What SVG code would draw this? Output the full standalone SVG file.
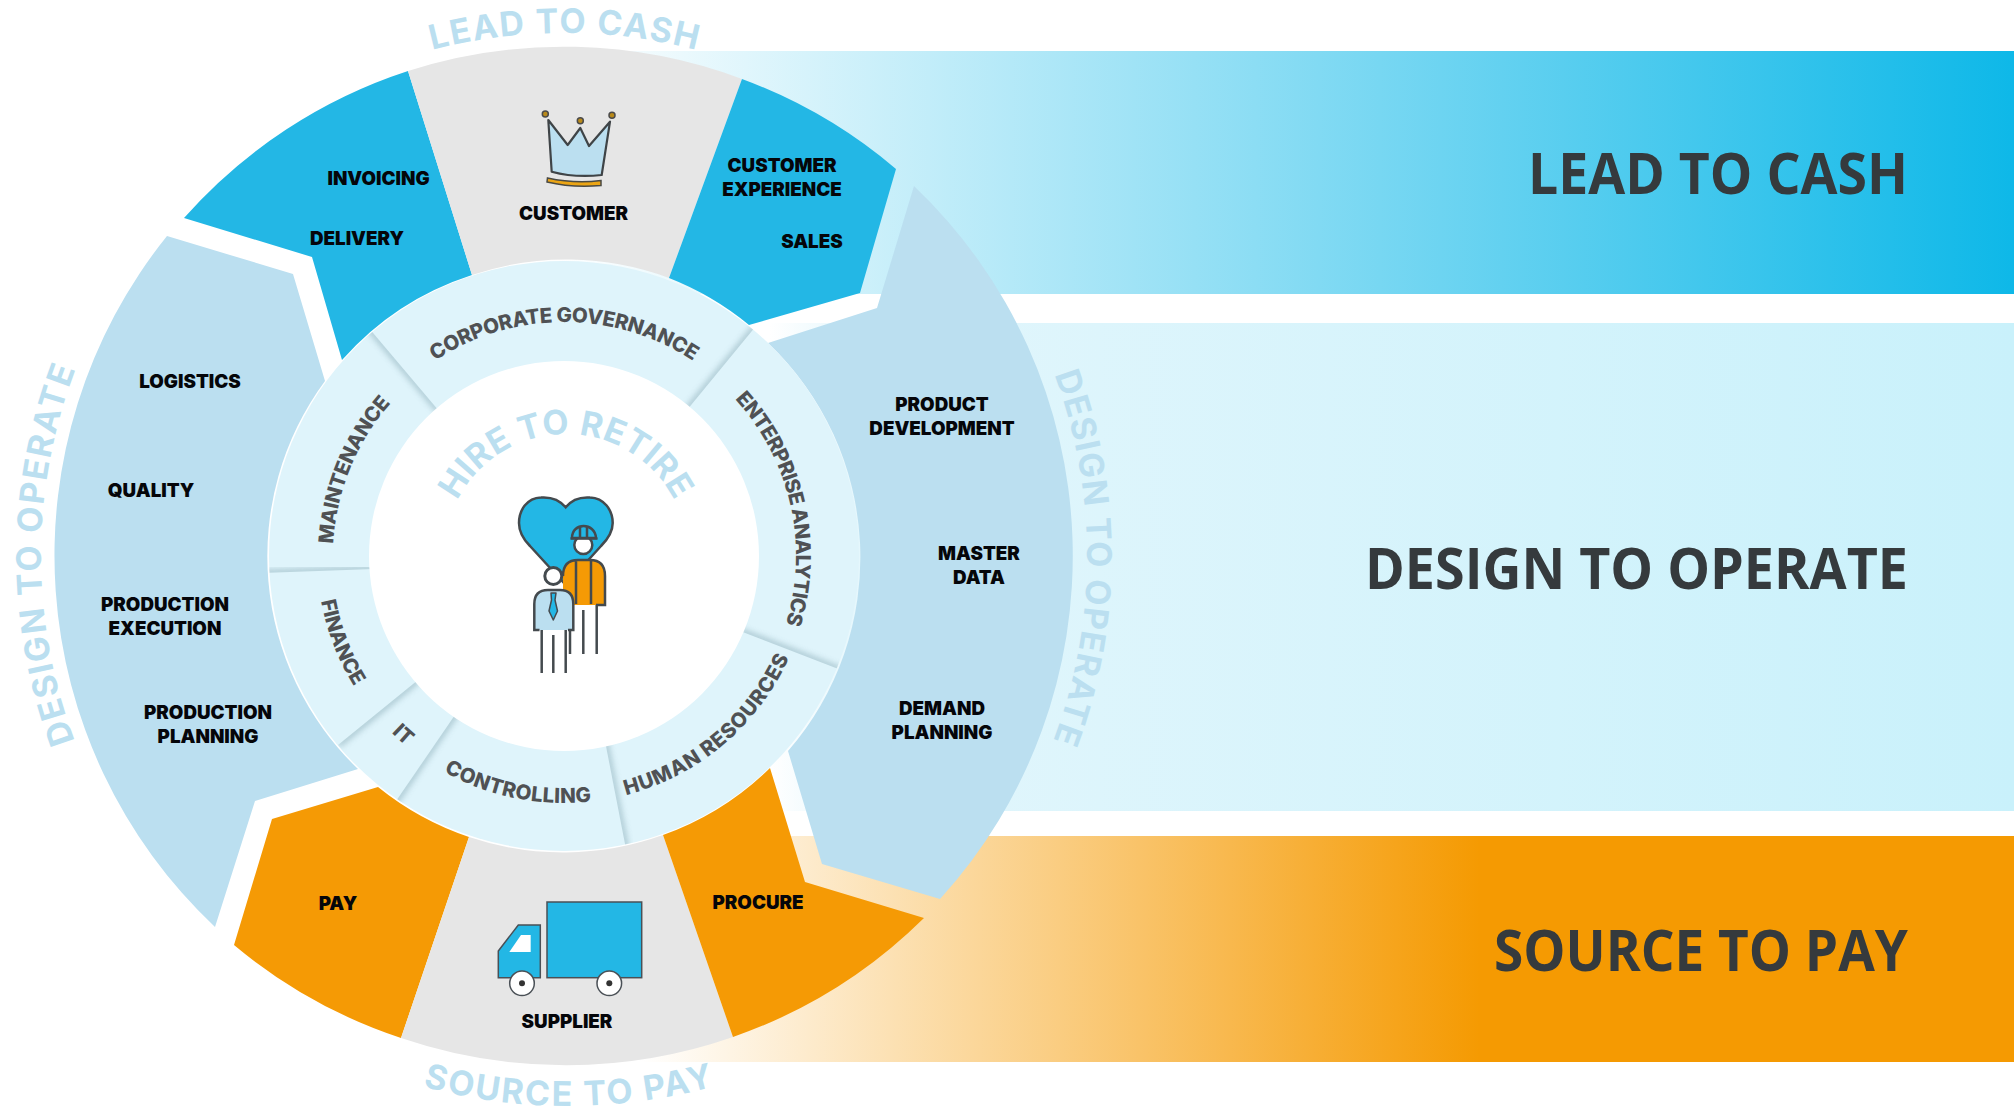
<svg xmlns="http://www.w3.org/2000/svg" width="2014" height="1111" viewBox="0 0 2014 1111">
<style>
.lb{font-family:"Inter","Liberation Sans",sans-serif;font-weight:900;font-size:18.800px;fill:#05060a;text-anchor:middle}
.ring{font-family:"Inter","Liberation Sans",sans-serif;font-weight:800;font-size:20.500px;fill:#4f5154}
.arc{font-family:"Inter","Liberation Sans",sans-serif;font-weight:700;font-size:34px;fill:#bbdff0}
.big{font-family:"Open Sans","Liberation Sans",sans-serif;font-weight:700;font-size:57px;fill:#353a3d}
.ln{stroke:#444a4e;stroke-width:2.5;fill:none}
.div{stroke:#8fb0bb;stroke-width:5;opacity:.8;filter:url(#soft)}
</style>
<defs>
<linearGradient id="gTop" gradientUnits="userSpaceOnUse" x1="560" y1="0" x2="2014" y2="0"><stop offset="0" stop-color="#fff"/><stop offset="1" stop-color="#0eb8e8"/></linearGradient>
<linearGradient id="gMid" gradientUnits="userSpaceOnUse" x1="770" y1="0" x2="2014" y2="0"><stop offset="0" stop-color="#fff"/><stop offset=".08" stop-color="#e2f6fc"/><stop offset="1" stop-color="#c9f1fb"/></linearGradient>
<linearGradient id="gBot" gradientUnits="userSpaceOnUse" x1="640" y1="0" x2="1480" y2="0"><stop offset="0" stop-color="#fff"/><stop offset="1" stop-color="#f59a02"/></linearGradient>
<filter id="soft" x="-30%" y="-30%" width="160%" height="160%"><feGaussianBlur stdDeviation="3"/></filter>
<clipPath id="ringClip"><circle cx="564" cy="556" r="295"/></clipPath>
<clipPath id="c1"><polygon points="368,327 439,411 428,420 357,336"/></clipPath>
<clipPath id="c2"><polygon points="262,573 374,569 374,555 262,559"/></clipPath>
<clipPath id="c3"><polygon points="338,745 418,680 427,691 347,756"/></clipPath>
<clipPath id="c4"><polygon points="394,804 457,712 468,720 405,812"/></clipPath>
<clipPath id="c5"><polygon points="626,849 605,741 619,738 640,846"/></clipPath>
<clipPath id="c6"><polygon points="841,670 740,631 745,618 846,657"/></clipPath>
<clipPath id="c7"><polygon points="756,326 687,410 676,401 745,317"/></clipPath>
<path id="cw523" d="M564 33A523 523 0 1 1 563.99 33"/>
<path id="cw234" d="M564 322A234 234 0 1 1 563.99 322"/>
<path id="cw232" d="M564 324A232 232 0 1 1 563.99 324"/>
<path id="cw231" d="M564 325A231 231 0 1 1 563.99 325"/>
<path id="cw122" d="M566 434A122 122 0 1 1 565.99 434"/>
<path id="ccw247" d="M564 803A247 247 0 1 0 563.99 803"/>
<path id="ccw551" d="M568 1106A550 550 0 1 0 567.99 1106"/>
</defs>

<g id="bands">
<rect x="560" y="51" width="1454" height="243" fill="url(#gTop)"/>
<rect x="770" y="323" width="1244" height="488" fill="url(#gMid)"/>
<rect x="640" y="836" width="1374" height="226" fill="url(#gBot)"/>
</g>

<g id="band-labels">
<text class="big" x="1528" y="194" textLength="380" lengthAdjust="spacingAndGlyphs">LEAD TO CASH</text>
<text class="big" x="1365" y="589" textLength="543" lengthAdjust="spacingAndGlyphs">DESIGN TO OPERATE</text>
<text class="big" x="1494" y="971" textLength="414" lengthAdjust="spacingAndGlyphs">SOURCE TO PAY</text>
</g>

<g id="lead-left">
<path fill="#23b7e5" d="M184 218A510 510 0 0 1 408 71L472 275A295 295 0 0 0 342 360L312 257Z"/>
<text class="lb" x="378.500" y="185">INVOICING</text>
<text class="lb" x="357" y="245">DELIVERY</text>
</g>
<g id="customer">
<path fill="#e6e6e6" d="M408 71A510 510 0 0 1 742 79L669 278A295 295 0 0 0 472 275Z"/>
<path fill="#bbdff0" stroke="#3f4447" stroke-width="2.200" stroke-linejoin="round" d="M548.300 120L567.700 145L580.300 128L589 146L610 121.700L601.700 175Q575 178 551.700 171.700Z"/>
<path fill="#eba515" stroke="#4a4a44" stroke-width="1.500" d="M547.500 178Q575 184 601 180.500V185.500Q572 188 547 182Z"/>
<g fill="#b98a1a" stroke="#4b4b4b" stroke-width="1.500"><circle cx="545.300" cy="114" r="3"/><circle cx="580.300" cy="120.700" r="3"/><circle cx="612" cy="115.300" r="3"/></g>
<text class="lb" x="573.500" y="220">CUSTOMER</text>
</g>
<g id="lead-right">
<path fill="#23b7e5" d="M742 79A510 510 0 0 1 896 169L860 293L749 325A295 295 0 0 0 669 278Z"/>
<text class="lb" x="782" y="172">CUSTOMER</text>
<text class="lb" x="782" y="196">EXPERIENCE</text>
<text class="lb" x="812" y="248">SALES</text>
</g>
<g id="design-right">
<path fill="#bbdff0" d="M768 343L877 308L914 186A510 510 0 0 1 940 899L822 864L788 751A295 295 0 0 0 768 343Z"/>
<text class="lb" x="942" y="411">PRODUCT</text>
<text class="lb" x="942" y="435">DEVELOPMENT</text>
<text class="lb" x="979" y="560">MASTER</text>
<text class="lb" x="979" y="584">DATA</text>
<text class="lb" x="942" y="715">DEMAND</text>
<text class="lb" x="942" y="739">PLANNING</text>
</g>
<g id="design-left">
<path fill="#bbdff0" d="M167 236L293 274L325 381A295 295 0 0 0 358 769L255 801L215 927A510 510 0 0 1 167 236Z"/>
<text class="lb" x="190" y="388">LOGISTICS</text>
<text class="lb" x="151" y="497">QUALITY</text>
<text class="lb" x="165" y="611">PRODUCTION</text>
<text class="lb" x="165" y="635">EXECUTION</text>
<text class="lb" x="208" y="719">PRODUCTION</text>
<text class="lb" x="208" y="743">PLANNING</text>
</g>
<g id="source-left">
<path fill="#f59a05" d="M272 819L378 787A295 295 0 0 0 469 837L401 1038A510 510 0 0 1 234 945Z"/>
<text class="lb" x="338" y="910">PAY</text>
</g>
<g id="supplier">
<path fill="#e6e6e6" d="M469 837A295 295 0 0 0 663 835L733 1037A510 510 0 0 1 401 1038Z"/>
<g stroke="#4a5056" stroke-width="1.500">
<rect x="547" y="902" width="94.700" height="75.700" fill="#23b7e5"/>
<path fill="#23b7e5" d="M498.300 951L518.300 925H540.300V977.700H498.300Z"/>
<circle cx="522" cy="983.300" r="12.300" fill="#fff"/>
<circle cx="609.300" cy="983.300" r="12.300" fill="#fff"/>
</g>
<path fill="#fff" d="M509.300 952L521 935H530.700V952Z"/>
<circle cx="522" cy="983.300" r="3" fill="#333"/>
<circle cx="609.300" cy="983.300" r="3" fill="#333"/>
<text class="lb" x="567" y="1028">SUPPLIER</text>
</g>
<g id="source-right">
<path fill="#f59a05" d="M663 835A295 295 0 0 0 770 768L805 882L924 918A510 510 0 0 1 733 1037Z"/>
<text class="lb" x="758" y="909">PROCURE</text>
</g>

<g id="process-labels">
<text class="arc" transform="rotate(-14.600 564 556)"><textPath href="#cw523" textLength="267">LEAD TO CASH</textPath></text>
<text class="arc" transform="rotate(-110.700 564 556)"><textPath href="#cw523" textLength="380">DESIGN TO OPERATE</textPath></text>
<text class="arc" transform="rotate(69.700 564 556)"><textPath href="#cw523" textLength="374">DESIGN TO OPERATE</textPath></text>
<text class="arc" transform="rotate(15.300 568 556)"><textPath href="#ccw551" textLength="295">SOURCE TO PAY</textPath></text>
</g>

<g id="ring">
<circle cx="564" cy="556" r="295" fill="#dff4fb"/>
<g id="dividers" clip-path="url(#ringClip)">
<g clip-path="url(#c1)"><line class="div" x1="368" y1="327" x2="439" y2="411"/></g>
<g clip-path="url(#c2)"><line class="div" x1="262" y1="573" x2="374" y2="569"/></g>
<g clip-path="url(#c3)"><line class="div" x1="338" y1="745" x2="418" y2="680"/></g>
<g clip-path="url(#c4)"><line class="div" x1="394" y1="804" x2="457" y2="712"/></g>
<g clip-path="url(#c5)"><line class="div" x1="626" y1="849" x2="605" y2="741"/></g>
<g clip-path="url(#c6)"><line class="div" x1="841" y1="670" x2="740" y2="631"/></g>
<g clip-path="url(#c7)"><line class="div" x1="756" y1="326" x2="687" y2="410"/></g>
</g>
<text class="ring" transform="rotate(-33.400 564 556)"><textPath href="#cw234" textLength="273">CORPORATE GOVERNANCE</textPath></text>
<text class="ring" transform="rotate(47.500 564 556)"><textPath href="#cw232" textLength="241">ENTERPRISE ANALYTICS</textPath></text>
<text class="ring" transform="rotate(-87 564 556)"><textPath href="#cw231" textLength="155">MAINTENANCE</textPath></text>
<text class="ring" transform="rotate(79.500 564 556)"><textPath href="#ccw247" textLength="92">FINANCE</textPath></text>
<text class="ring" transform="rotate(44.300 564 556)"><textPath href="#ccw247" textLength="20">IT</textPath></text>
<text class="ring" transform="rotate(29.100 564 556)"><textPath href="#ccw247" textLength="153">CONTROLLING</textPath></text>
<text class="ring" transform="rotate(-14.600 564 556)"><textPath href="#ccw247" textLength="220">HUMAN RESOURCES</textPath></text>
</g>

<g id="hire-to-retire">
<circle cx="564" cy="556" r="195" fill="#fff"/>
<text class="arc" transform="rotate(-63 566 556)"><textPath href="#cw122" textLength="268">HIRE TO RETIRE</textPath></text>
<path fill="#23b7e5" stroke="#444a4e" stroke-width="2.500" d="M565.700 507.300C558 498 548 497 541 497.500C527 498 519 510 519 523C519 533 524 540 530 546L565.700 585L601 546C607 540 612.700 533 612.700 523C612.700 510 604 498 590 497.500C583 497 573 498 565.700 507.300Z"/>
<path class="ln" d="M570 630V654M583.300 610V654M596.700 605V654" stroke-width="3.500"/>
<path fill="#f59a05" d="M563 605V576Q563 560 578 560H590Q605 560 605 576V605Z"/>
<path class="ln" d="M563 576Q563 560 578 560H590Q605 560 605 576V605H596M576 560V604M591 560V604"/>
<circle cx="583.300" cy="545" r="9" fill="#fff" stroke="#444a4e" stroke-width="2.500"/>
<path fill="#23b7e5" stroke="#444a4e" stroke-width="2.500" d="M572 538C572 522 595 522 596 538Z"/>
<path class="ln" d="M570.500 538.500H597.500M580 527V537M587 527V537"/>
<circle cx="553.300" cy="576" r="8.500" fill="#fff" stroke="#444a4e" stroke-width="3"/>
<path fill="#bbdff0" d="M534.300 630V604Q534.300 590 548 590H560Q573.300 590 573.300 604V630Z"/>
<path class="ln" d="M539.500 630H534.300V604Q534.300 590 548 590H560Q573.300 590 573.300 604V630H568"/>
<path fill="#23b7e5" stroke="#444a4e" stroke-width="1.500" stroke-linejoin="round" d="M551 593H556L555 600L557.500 611L553.300 620L549 611L551.500 600Z"/>
<path class="ln" d="M541.700 630V673M553.300 635V673M565.700 630V673" stroke-width="3.500"/>
</g>
</svg>
